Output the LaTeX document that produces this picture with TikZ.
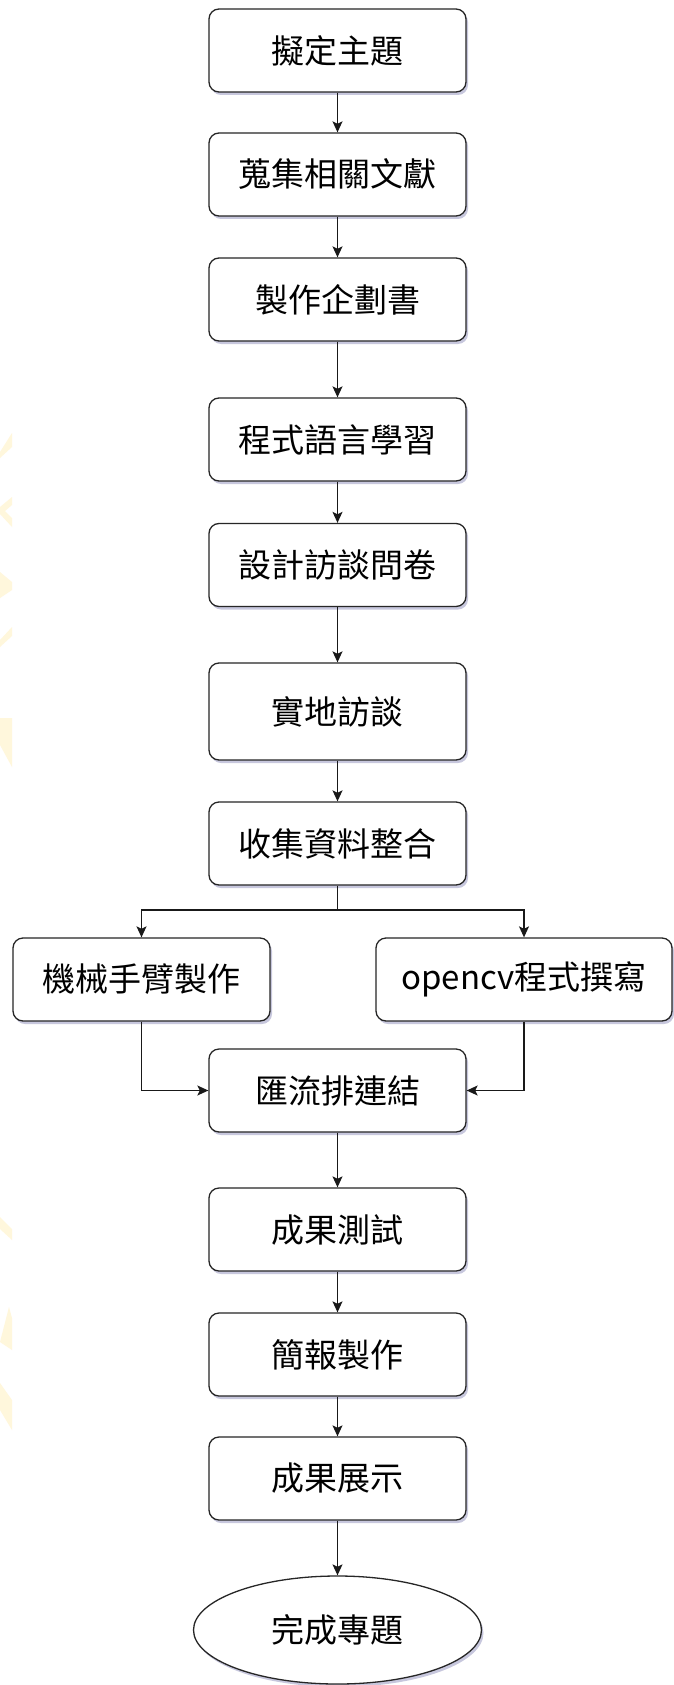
\documentclass[tikz,border=0pt]{standalone}
\usepackage{fontspec}
\setmainfont{Noto Sans CJK TC}
\usetikzlibrary{arrows.meta,shapes.geometric,shadows}
\definecolor{wm}{HTML}{FFF7DC}
\begin{document}
\begin{tikzpicture}[x=1pt,y=-1pt,
  box/.style={draw=black!85, line width=1.3pt, rounded corners=10pt, fill=white,
    minimum width=257pt, minimum height=83pt, inner sep=0pt,
    font=\fontsize{33}{40}\selectfont,
    drop shadow={shadow xshift=2pt, shadow yshift=-3pt, opacity=0.22, fill=black!60!blue}},
  endnode/.style={draw=black!85, line width=1.3pt, ellipse, fill=white,
    minimum width=288pt, minimum height=108pt, inner sep=0pt,
    font=\fontsize{33}{40}\selectfont,
    drop shadow={shadow xshift=2pt, shadow yshift=-3pt, opacity=0.22, fill=black!60!blue}},
  arr/.style={-{Stealth[length=11pt,width=10pt,inset=2.5pt]}, line width=1.3pt, draw=black!90},
  ln/.style={line width=1.3pt, draw=black!90}]
\useasboundingbox (0,0) rectangle (674,1685);
\fill[white] (0,0) rectangle (674,1685);
% faint watermark at left edge
\fill[wm] (0,452) -- (12,433) -- (12,447) -- (0,458) -- cycle;
\fill[wm] (12,497) -- (0,507) -- (0,514) -- (12,527) -- (12,518) -- (5,511) -- (12,505) -- cycle;
\fill[wm] (0,572) -- (12,582) -- (12,590) -- (0,598) -- cycle;
\fill[wm] (12,627) -- (0,640) -- (0,647) -- (12,636) -- cycle;
\fill[wm] (0,718) -- (12,718) -- (12,767) -- (0,745) -- cycle;
\fill[wm] (0,1217) -- (12,1229) -- (12,1240) -- (0,1229) -- cycle;
\fill[wm] (0,1342) -- (9,1307) -- (12,1318) -- (12,1350) -- cycle;
\fill[wm] (0,1383) -- (12,1400) -- (12,1430) -- (0,1410) -- cycle;

\node[box] (n1) at (337.5,50.5) {擬定主題};
\node[box] (n2) at (337.5,174.5) {蒐集相關文獻};
\node[box] (n3) at (337.5,299.5) {製作企劃書};
\node[box] (n4) at (337.5,439.5) {程式語言學習};
\node[box] (n5) at (337.5,565) {設計訪談問卷};
\node[box, minimum height=97pt] (n6) at (337.5,711.5) {實地訪談};
\node[box] (n7) at (337.5,843.5) {收集資料整合};
\node[box] (L) at (141.5,979.5) {機械手臂製作};
\node[box, minimum width=296pt] (R) at (524,979.5) {opencv程式撰寫};
\node[box] (M) at (337.5,1090.5) {匯流排連結};
\node[box] (T) at (337.5,1229.5) {成果測試};
\node[box] (B) at (337.5,1354.5) {簡報製作};
\node[box] (S) at (337.5,1478.5) {成果展示};
\node[endnode] (E) at (337.5,1630) {完成專題};

\coordinate (split) at (337.5,910);
\coordinate (lt) at (141.5,910);
\coordinate (rt) at (524,910);

\draw[arr] (n1) -- (n2);
\draw[arr] (n2) -- (n3);
\draw[arr] (n3) -- (n4);
\draw[arr] (n4) -- (n5);
\draw[arr] (n5) -- (n6);
\draw[arr] (n6) -- (n7);
\draw[ln] (n7.south) -- (split);
\draw[arr] (split) -- (lt) -- (L.north);
\draw[arr] (split) -- (rt) -- (R.north);
\draw[arr] (L.south) |- (M.west);
\draw[arr] (R.south) |- (M.east);
\draw[arr] (M) -- (T);
\draw[arr] (T) -- (B);
\draw[arr] (B) -- (S);
\draw[arr] (S) -- (E);
\end{tikzpicture}
\end{document}
